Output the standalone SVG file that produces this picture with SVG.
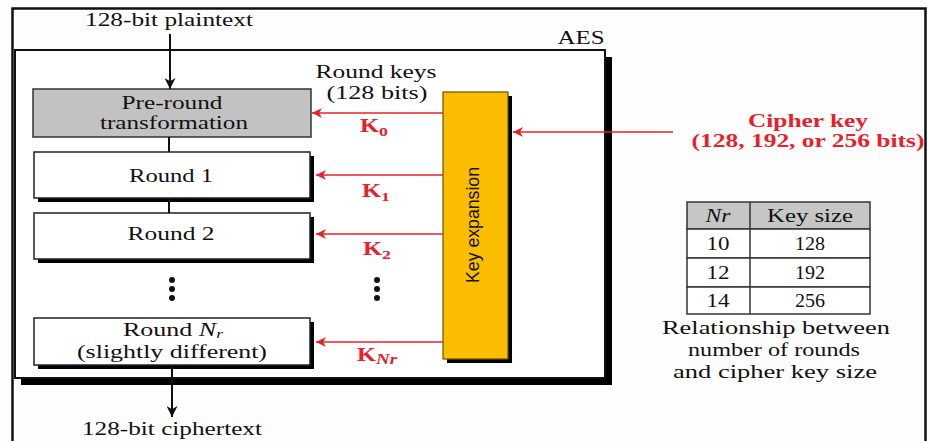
<svg xmlns="http://www.w3.org/2000/svg" width="927" height="441" viewBox="0 0 927 441">
<defs>
<style>
.t{font-family:"Liberation Serif","Times New Roman",serif;font-size:18px;fill:#111;text-anchor:middle}
.r{font-family:"Liberation Serif","Times New Roman",serif;font-size:18px;font-weight:bold;fill:#e8202a}
.box{fill:#fff;stroke:#222;stroke-width:1.5}
.shadow{fill:#000}
.red{stroke:#e8202a;stroke-width:1.5;fill:none}
.blk{stroke:#111;stroke-width:2;fill:none}
.cell{fill:#fff;stroke:#333;stroke-width:1.5}
</style>
<marker id="ar" viewBox="0 0 10 10" refX="10" refY="5" markerWidth="10" markerHeight="10" markerUnits="userSpaceOnUse" orient="auto">
<path d="M0,0 L10,5 L0,10 L3,5 Z" fill="#e8202a"/>
</marker>
<marker id="ab" viewBox="0 0 10 10" refX="10" refY="5" markerWidth="11" markerHeight="11" markerUnits="userSpaceOnUse" orient="auto">
<path d="M0,0 L10,5 L0,10 L3,5 Z" fill="#111"/>
</marker>
</defs>
<rect width="927" height="441" fill="#fdfdfd"/>
<path d="M12.5,445 V8.5 H925.5 V445" fill="none" stroke="#111" stroke-width="2.5"/>

<g id="aes">
<rect x="21" y="57" width="591" height="328" class="shadow"/>
<rect x="15" y="50" width="590" height="328" fill="#fff" stroke="#111" stroke-width="2"/>
<text class="t" x="581" y="44" textLength="47" lengthAdjust="spacingAndGlyphs" font-size="17">AES</text>
</g>

<g id="plaintext">
<text class="t" x="169" y="26" textLength="168" lengthAdjust="spacingAndGlyphs">128-bit plaintext</text>
</g>

<g id="preround">
<rect x="33" y="89" width="278" height="48" fill="#c2c2c2" stroke="#333" stroke-width="1.5"/>
<text class="t" x="172" y="109" textLength="101" lengthAdjust="spacingAndGlyphs">Pre-round</text>
<text class="t" x="174" y="129" textLength="148" lengthAdjust="spacingAndGlyphs">transformation</text>
</g>

<g id="round1">
<rect x="38" y="156" width="276" height="46" class="shadow"/>
<rect x="34" y="152" width="276" height="46" class="box"/>
<text class="t" x="171" y="182" textLength="84" lengthAdjust="spacingAndGlyphs">Round 1</text>
</g>

<g id="round2">
<rect x="38" y="217" width="276" height="46" class="shadow"/>
<rect x="34" y="213" width="276" height="46" class="box"/>
<text class="t" x="171" y="240" textLength="87" lengthAdjust="spacingAndGlyphs">Round 2</text>
</g>

<g id="dots-left" fill="#111">
<circle cx="172" cy="280" r="3"/>
<circle cx="172" cy="289" r="3"/>
<circle cx="172" cy="298" r="3"/>
</g>

<g id="roundNr">
<rect x="38" y="322" width="276" height="47" class="shadow"/>
<rect x="34" y="318" width="276" height="47" class="box"/>
<text class="t" x="173" y="336" textLength="100" lengthAdjust="spacingAndGlyphs">Round <tspan font-style="italic">N</tspan><tspan font-style="italic" font-size="12" dy="2">r</tspan></text>
<text class="t" x="172" y="358" textLength="190" lengthAdjust="spacingAndGlyphs">(slightly different)</text>
</g>

<g id="ciphertext">
<text class="t" x="172" y="435" textLength="180" lengthAdjust="spacingAndGlyphs">128-bit ciphertext</text>
</g>

<g id="roundkeys">
<text class="t" x="376" y="78" textLength="121" lengthAdjust="spacingAndGlyphs">Round keys</text>
<text class="t" x="377" y="99" textLength="101" lengthAdjust="spacingAndGlyphs">(128 bits)</text>
</g>

<g id="keyexpansion">
<rect x="447" y="96" width="65" height="267" class="shadow"/>
<rect x="443" y="92" width="65" height="267" fill="#fbbd00" stroke="#6b5200" stroke-width="1.2"/>
<text x="0" y="0" transform="translate(479,225) rotate(-90)" font-family="'Liberation Sans',Arial,sans-serif" font-size="19" fill="#111" text-anchor="middle" textLength="116" lengthAdjust="spacingAndGlyphs">Key expansion</text>
</g>

<g id="dots-right" fill="#111">
<circle cx="377" cy="280" r="3"/>
<circle cx="377" cy="289" r="3"/>
<circle cx="377" cy="298" r="3"/>
</g>

<g id="cipherkey">
<text class="r" x="808" y="127" text-anchor="middle" textLength="120" lengthAdjust="spacingAndGlyphs">Cipher key</text>
<text class="r" x="808" y="147" text-anchor="middle" textLength="233" lengthAdjust="spacingAndGlyphs">(128, 192, or 256 bits)</text>
</g>

<g id="klabels">
<text class="r" x="360" y="132" textLength="28" lengthAdjust="spacingAndGlyphs">K<tspan font-size="13" dy="4">0</tspan></text>
<text class="r" x="362" y="197" textLength="28" lengthAdjust="spacingAndGlyphs">K<tspan font-size="13" dy="4">1</tspan></text>
<text class="r" x="363" y="255" textLength="28" lengthAdjust="spacingAndGlyphs">K<tspan font-size="13" dy="4">2</tspan></text>
<text class="r" x="357" y="361" textLength="40" lengthAdjust="spacingAndGlyphs">K<tspan font-size="14" dy="3" font-style="italic">Nr</tspan></text>
</g>

<g id="table">
<rect x="687" y="202" width="183" height="27" fill="#c6c6c6" stroke="#333" stroke-width="1.5"/>
<rect x="687" y="229" width="183" height="29" class="cell"/>
<rect x="687" y="258" width="183" height="29" class="cell"/>
<rect x="687" y="287" width="183" height="27" class="cell"/>
<line x1="750" y1="202" x2="750" y2="314" stroke="#333" stroke-width="1.5"/>
<text class="t" x="718" y="222" font-style="italic" textLength="25" lengthAdjust="spacingAndGlyphs">Nr</text>
<text class="t" x="810" y="222" textLength="86" lengthAdjust="spacingAndGlyphs">Key size</text>
<text class="t" x="718" y="250" textLength="23" lengthAdjust="spacingAndGlyphs">10</text>
<text class="t" x="810" y="250" textLength="30" lengthAdjust="spacingAndGlyphs">128</text>
<text class="t" x="718" y="279" textLength="23" lengthAdjust="spacingAndGlyphs">12</text>
<text class="t" x="810" y="279" textLength="30" lengthAdjust="spacingAndGlyphs">192</text>
<text class="t" x="718" y="307" textLength="23" lengthAdjust="spacingAndGlyphs">14</text>
<text class="t" x="810" y="307" textLength="30" lengthAdjust="spacingAndGlyphs">256</text>
<text class="t" x="776" y="334" textLength="228" lengthAdjust="spacingAndGlyphs">Relationship between</text>
<text class="t" x="774" y="356" textLength="172" lengthAdjust="spacingAndGlyphs">number of rounds</text>
<text class="t" x="775" y="378" textLength="204" lengthAdjust="spacingAndGlyphs">and cipher key size</text>
</g>

<g id="connectors">
<line x1="170" y1="34" x2="170" y2="89" class="blk" marker-end="url(#ab)"/>
<line x1="169" y1="137" x2="169" y2="152" class="blk"/>
<line x1="169" y1="198" x2="169" y2="213" class="blk"/>
<line x1="172" y1="365" x2="172" y2="417" class="blk" marker-end="url(#ab)"/>
<line x1="443" y1="113" x2="312" y2="113" class="red" marker-end="url(#ar)"/>
<line x1="443" y1="175" x2="316" y2="175" class="red" marker-end="url(#ar)"/>
<line x1="443" y1="234" x2="316" y2="234" class="red" marker-end="url(#ar)"/>
<line x1="443" y1="342" x2="316" y2="342" class="red" marker-end="url(#ar)"/>
<line x1="673" y1="132" x2="513" y2="132" class="red" marker-end="url(#ar)"/>
</g>
</svg>
